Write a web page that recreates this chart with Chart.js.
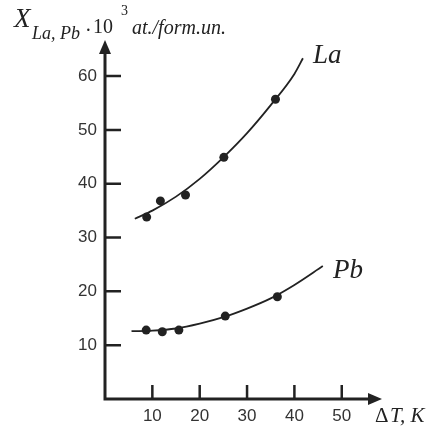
<!DOCTYPE html>
<html>
<head>
<meta charset="utf-8">
<script src="https://cdn.jsdelivr.net/npm/chart.js@4.4.0/dist/chart.umd.min.js"></script>
<style>
  html, body { margin: 0; padding: 0; background: #fff; }
  #wrap { width: 433px; height: 432px; }
</style>
</head>
<body>
<div id="wrap"><canvas id="chart" width="433" height="432"></canvas></div>
<script>
// measured points
const laX = [8.8, 11.7, 17.0, 25.1, 36.0];
const laY = [33.8, 36.8, 37.9, 44.9, 55.7];
const pbX = [8.7, 12.1, 15.6, 25.4, 36.4];
const pbY = [12.8, 12.5, 12.8, 15.4, 19.0];

// fitted curves
const laCurveX = [6.3, 10, 15, 20, 25, 30, 35, 40, 41.8];
const laCurveY = [33.5, 35.0, 37.6, 40.9, 44.9, 49.4, 54.6, 60.4, 63.3];
const pbCurveX = [5.6, 10, 15, 20, 25, 30, 35, 40, 46];
const pbCurveY = [12.6, 12.7, 13.1, 14.0, 15.2, 16.8, 18.7, 21.2, 24.7];

const xTicks = [10, 20, 30, 40, 50];
const yTicks = [10, 20, 30, 40, 50, 60];

const ink = '#222';
const pts = (xs, ys) => xs.map((x, i) => ({ x: x, y: ys[i] }));

const axesPlugin = {
  id: 'axes',
  afterDraw(chart) {
    const ctx = chart.ctx;
    const xs = chart.scales.x, ys = chart.scales.y;
    const x0 = xs.getPixelForValue(0), y0 = ys.getPixelForValue(0);
    const xEnd = xs.right, yEnd = ys.top;
    ctx.save();
    ctx.strokeStyle = ink;
    ctx.fillStyle = ink;
    ctx.lineWidth = 3;
    ctx.beginPath();
    ctx.moveTo(x0, y0 + 1.5);
    ctx.lineTo(x0, yEnd + 10);
    ctx.moveTo(x0 - 1.5, y0);
    ctx.lineTo(xEnd - 10, y0);
    ctx.stroke();
    // arrow heads
    ctx.beginPath();
    ctx.moveTo(x0, yEnd);
    ctx.lineTo(x0 - 6, yEnd + 14);
    ctx.lineTo(x0 + 6, yEnd + 14);
    ctx.closePath();
    ctx.fill();
    ctx.beginPath();
    ctx.moveTo(xEnd, y0);
    ctx.lineTo(xEnd - 14, y0 - 6);
    ctx.lineTo(xEnd - 14, y0 + 6);
    ctx.closePath();
    ctx.fill();
    // tick marks
    ctx.lineWidth = 2.5;
    ctx.beginPath();
    yTicks.forEach(v => {
      const py = ys.getPixelForValue(v);
      ctx.moveTo(x0, py);
      ctx.lineTo(x0 + 16, py);
    });
    xTicks.forEach(v => {
      const px = xs.getPixelForValue(v);
      ctx.moveTo(px, y0);
      ctx.lineTo(px, y0 - 14);
    });
    ctx.stroke();

    // titles
    ctx.fillStyle = '#222';
    ctx.textBaseline = 'alphabetic';
    ctx.font = 'italic 27px "Liberation Serif"';
    ctx.fillText('X', 14, 27);
    ctx.font = 'italic 18px "Liberation Serif"';
    ctx.fillText('La, Pb', 32, 39);
    ctx.font = '20px "Liberation Serif"';
    ctx.fillText('·', 85, 37);
    ctx.fillText('10', 93, 33);
    ctx.font = '14px "Liberation Serif"';
    ctx.fillText('3', 121, 15);
    ctx.font = 'italic 20px "Liberation Serif"';
    ctx.fillText('at./form.un.', 132, 34);

    ctx.font = 'italic 27px "Liberation Serif"';
    ctx.fillText('La', 313, 63);
    ctx.fillText('Pb', 333, 278);

    ctx.font = '21px "Liberation Serif"';
    ctx.fillText('\u0394', 375, 422);
    ctx.font = 'italic 21px "Liberation Serif"';
    ctx.fillText('T, K', 390, 422);
    ctx.restore();
  }
};

const curve = (data) => ({
  data: data,
  showLine: true,
  pointRadius: 0,
  borderColor: ink,
  borderWidth: 1.8,
  cubicInterpolationMode: 'monotone'
});
const dots = (data) => ({
  data: data,
  showLine: false,
  pointRadius: 4.5,
  pointBackgroundColor: ink,
  pointBorderWidth: 0
});

new Chart(document.getElementById('chart'), {
  type: 'scatter',
  data: {
    datasets: [
      curve(pts(laCurveX, laCurveY)),
      dots(pts(laX, laY)),
      curve(pts(pbCurveX, pbCurveY)),
      dots(pts(pbX, pbY))
    ]
  },
  options: {
    responsive: false,
    animation: false,
    layout: { padding: { top: 40, right: 51, left: 0, bottom: 0 } },
    plugins: { legend: { display: false }, tooltip: { enabled: false } },
    scales: {
      x: {
        type: 'linear', min: 0, max: 58.5,
        grid: { display: false, drawTicks: false },
        border: { display: false },
        afterFit: s => { s.height = 33; },
        afterBuildTicks: s => { s.ticks = xTicks.map(v => ({ value: v })); },
        ticks: { color: '#333', padding: 7, font: { family: '"Liberation Sans"', size: 17 } }
      },
      y: {
        min: 0, max: 66.7,
        grid: { display: false, drawTicks: false },
        border: { display: false },
        afterFit: s => { s.width = 105; },
        afterBuildTicks: s => { s.ticks = yTicks.map(v => ({ value: v })); },
        ticks: { color: '#333', padding: 8, font: { family: '"Liberation Sans"', size: 17 } }
      }
    }
  },
  plugins: [axesPlugin]
});
</script>
</body>
</html>
